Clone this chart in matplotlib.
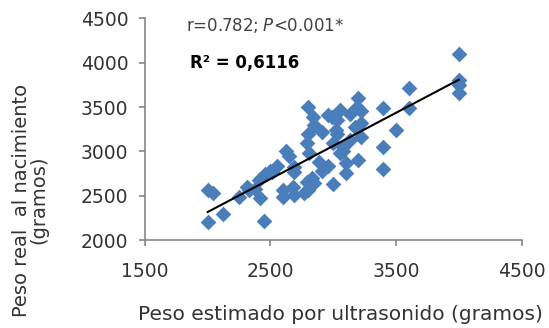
import numpy as np
import matplotlib
matplotlib.use('Agg')
import matplotlib.pyplot as plt

# Peso estimado por ultrasonido vs peso real al nacimiento (gramos)
peso_estimado = [2000, 2040, 2000, 2120, 2250, 2310, 2330, 2380, 2410, 2420,
                 2450, 2460, 2500, 2510, 2550, 2600, 2600, 2620, 2650, 2680,
                 2690, 2690, 2690, 2770, 2790, 2800, 2800, 2790, 2800, 2810,
                 2830, 2840, 2850, 2850, 2890, 2910, 2910, 2960, 2960, 2990,
                 3000, 3000, 3020, 3030, 3030, 3050, 3050, 3080, 3080, 3100,
                 3100, 3130, 3130, 3170, 3190, 3200, 3200, 3220, 3220, 3220,
                 3400, 3400, 3400, 3500, 3600, 3600, 4000, 4000, 4000, 4000]
peso_real = [2570, 2530, 2200, 2290, 2490, 2600, 2560, 2580, 2680, 2480,
             2220, 2750, 2780, 2770, 2830, 2560, 2490, 3000, 2950, 2600,
             2510, 2770, 2820, 2530, 2660, 3500, 3200, 3090, 2560, 2980,
             2700, 3390, 2640, 3300, 2880, 2780, 3220, 3410, 2840, 3390,
             2630, 3090, 3240, 3350, 3200, 3470, 2980, 3050, 3010, 2870,
             2760, 3420, 3130, 3280, 3500, 3600, 2900, 3460, 3320, 3160,
             3490, 3050, 2800, 3240, 3710, 3490, 4100, 3800, 3750, 3660]

x_ticks = [1500, 2500, 3500, 4500]
y_ticks = [2000, 2500, 3000, 3500, 4000, 4500]

fig = plt.figure(figsize=(5.49, 3.28), dpi=100)
ax = fig.add_axes([0.264, 0.268, 0.686, 0.676])

ax.scatter(peso_estimado, peso_real, marker='D', s=64, color='#4a7ebb',
           linewidths=0, zorder=2)

# linear trendline
m, b = np.polyfit(peso_estimado, peso_real, 1)
xs = np.array([min(peso_estimado), max(peso_estimado)])
ax.plot(xs, m * xs + b, color='black', linewidth=1.5, zorder=3)

ax.set_xlim(1500, 4500)
ax.set_ylim(2000, 4500)
ax.set_xticks(x_ticks)
ax.set_yticks(y_ticks)

for side in ['top', 'right']:
    ax.spines[side].set_visible(False)
for side in ['left', 'bottom']:
    ax.spines[side].set_color('#868686')
    ax.spines[side].set_linewidth(1.2)

ax.tick_params(axis='both', direction='out', length=4, width=1.2,
               color='#868686', labelsize=13.5, labelcolor='#333333', pad=8)
ax.tick_params(axis='x', pad=12)

ax.text(0.11, 0.97, r'r=0.782; $\it{P}$<0.001*', transform=ax.transAxes,
        fontsize=12, color='#404040', va='center', ha='left')
ax.text(0.12, 0.80, 'R² = 0,6116', transform=ax.transAxes,
        fontsize=12, fontweight='bold', color='black', va='center', ha='left')

fig.text(0.62, 0.04, 'Peso estimado por ultrasonido (gramos)', fontsize=14.5,
         color='#333333', ha='center', va='center')
fig.text(0.055, 0.39, 'Peso real  al nacimiento\n(gramos)', fontsize=14,
         color='#333333', ha='center', va='center', rotation=90,
         multialignment='center', linespacing=0.95)

fig.savefig('out.png', dpi=100)
